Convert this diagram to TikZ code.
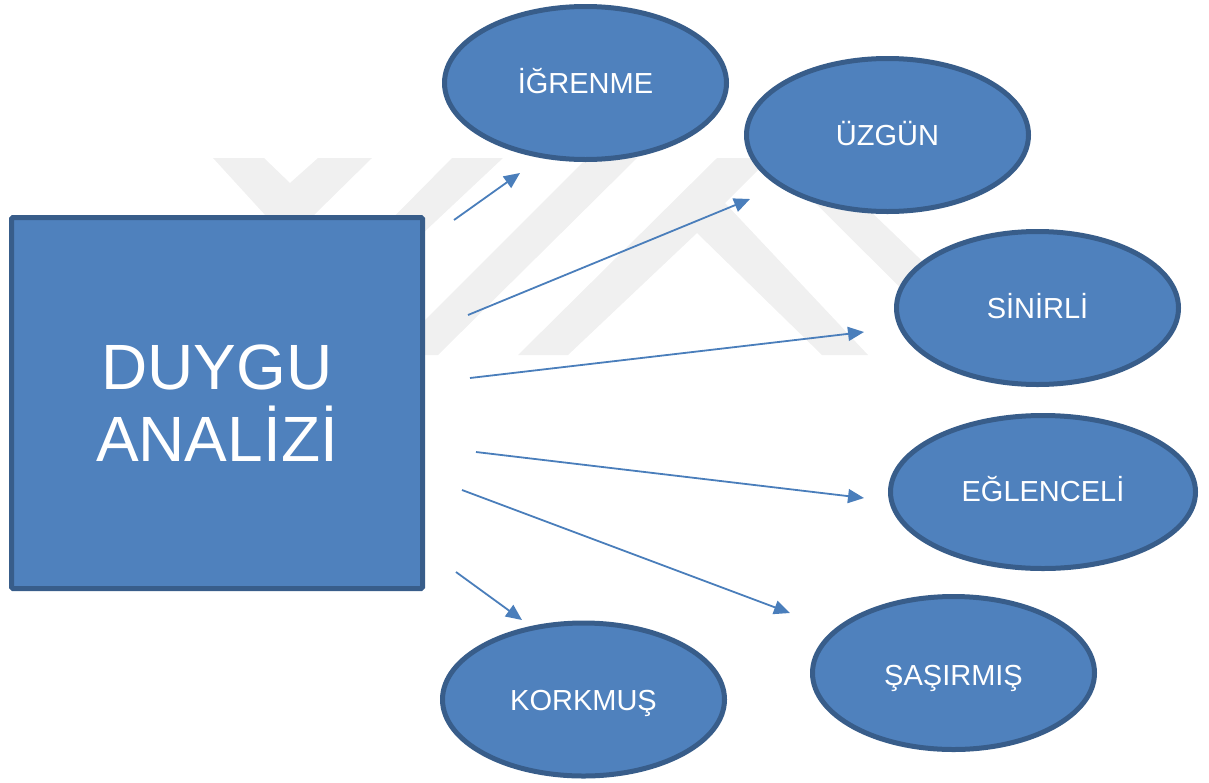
\documentclass[tikz,border=0pt]{standalone}
\usepackage{fontspec}
\setmainfont{Liberation Sans}
\usetikzlibrary{arrows.meta,shapes.geometric}
\definecolor{fillblue}{HTML}{4F81BD}
\definecolor{edgeblue}{HTML}{385D8A}
\definecolor{arrowblue}{HTML}{4A7EBB}
\definecolor{wm}{HTML}{F0F0F0}
\tikzset{
  x=1pt,y=-1pt,
  emotion/.style={ellipse,draw=edgeblue,fill=fillblue,line width=5pt,minimum width=282pt,minimum height=153pt,inner sep=0pt,text=white,text height=25pt,text depth=4pt,font=\fontsize{29}{32}\selectfont},
  mainbox/.style={rectangle,rounded corners=1.5pt,draw=edgeblue,fill=fillblue,line width=5pt,minimum width=411pt,minimum height=371pt,inner sep=0pt,text=white,align=center,font=\fontsize{64}{66}\selectfont},
  link/.style={draw=arrowblue,line width=1.8pt,-{Triangle[length=16pt,width=14pt]}},
  wmark/.style={fill=wm,draw=none}
}
\begin{document}
\begin{tikzpicture}
\useasboundingbox (0,0) rectangle (1209,782);
\fill[wmark] (213,158) -- (264,158) -- (290,183) -- (318,158) -- (372,158) -- (313,216) -- (266,216) -- cycle;
\fill[wmark] (452,158) -- (503,158) -- (420,236) -- (375,236) -- cycle;
\fill[wmark] (587,158) -- (637,158) -- (438,355) -- (390,355) -- cycle;
\fill[wmark] (717,158) -- (770,158) -- (725,203) -- (868,355) -- (822,355) -- (697,233) -- (568,355) -- (518,355) -- cycle;
\fill[wmark] (770,158) -- (815,158) -- (1020,355) -- (968,355) -- cycle;
\node[mainbox] (main) at (217,403) {DUYGU\\[6pt]ANALİZİ};
\node[emotion] (a) at (585.5,83) {İĞRENME};
\node[emotion] (b) at (887.5,135) {ÜZGÜN};
\node[emotion] (c) at (1037.5,308) {SİNİRLİ};
\node[emotion,minimum width=305pt,text depth=6pt] (d) at (1043,492) {EĞLENCELİ};
\node[emotion,text height=29pt] (e) at (953.5,673) {ŞAŞIRMIŞ};
\node[emotion] (f) at (583.5,699.5) {KORKMUŞ};
\coordinate (s1) at (454,220); \coordinate (t1) at (520,173);
\coordinate (s2) at (468,315); \coordinate (t2) at (750,199);
\coordinate (s3) at (470,378); \coordinate (t3) at (864,332);
\coordinate (s4) at (476,452); \coordinate (t4) at (864,498);
\coordinate (s5) at (462,490); \coordinate (t5) at (790,613);
\coordinate (s6) at (456,572); \coordinate (t6) at (522,620);
\draw[link] (s1) -- (t1);
\draw[link] (s2) -- (t2);
\draw[link] (s3) -- (t3);
\draw[link] (s4) -- (t4);
\draw[link] (s5) -- (t5);
\draw[link] (s6) -- (t6);
\end{tikzpicture}
\end{document}
